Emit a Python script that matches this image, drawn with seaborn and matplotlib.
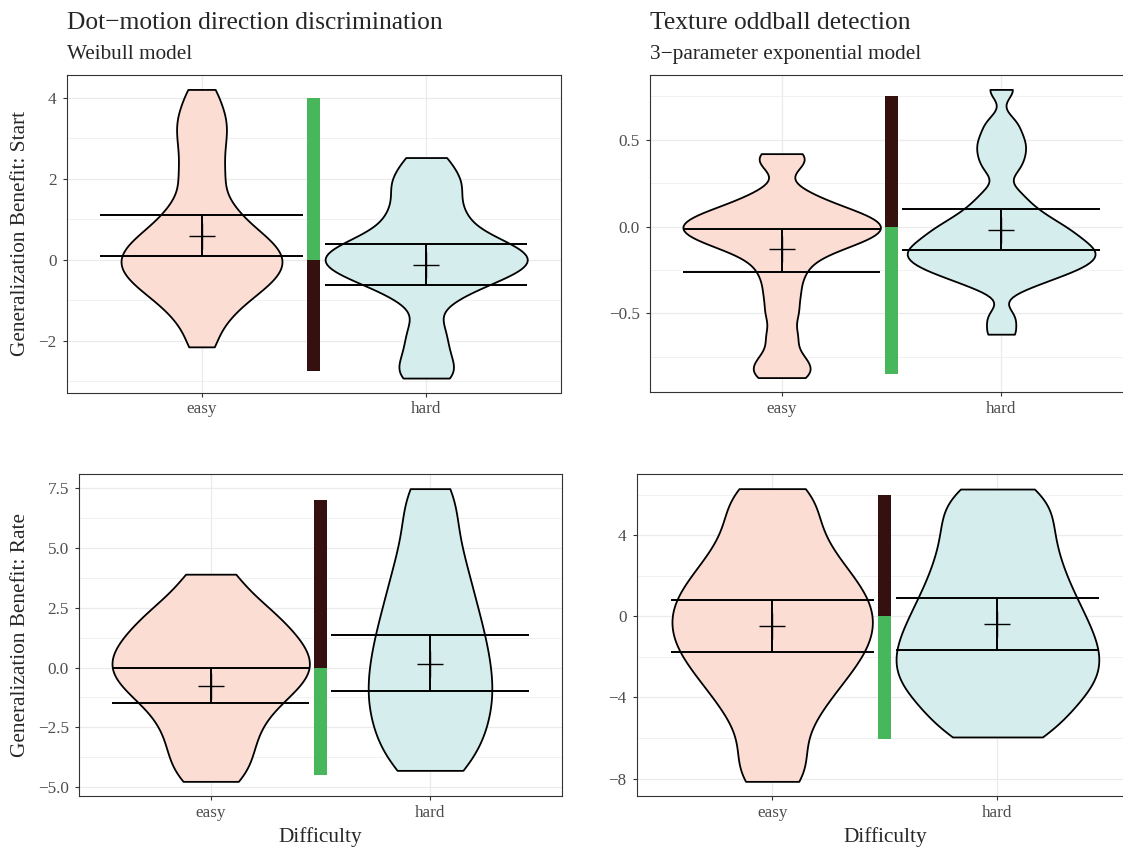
import numpy as np
import pandas as pd
import matplotlib
matplotlib.use("Agg")
import matplotlib.pyplot as plt
import seaborn as sns
from matplotlib.ticker import MultipleLocator, AutoMinorLocator

sns.set_theme(style="white")
plt.rcParams['font.family'] = ['Liberation Serif', 'DejaVu Serif']

# =========================
#  DATA
# =========================

difficulty = ['easy', 'hard']

# generalization benefit samples
start_dot_easy = [-2.15, -1.65, -1.35, -1.12, -0.95, -0.80, -0.68, -0.57, -0.47, -0.37, -0.27,
                  -0.18, -0.09, -0.01, 0.08, 0.17, 0.27, 0.37, 0.47, 0.58, 0.70, 0.85, 1.02,
                  1.25, 1.45, 1.85, 2.15, 2.5, 2.85, 3.15, 3.45, 3.75, 4.2]
start_dot_hard = [-2.92, -2.65, -2.2, -1.7, -0.99, -0.69, -0.52, -0.39, -0.28, -0.18, -0.09,
                  0.0, 0.09, 0.18, 0.28, 0.39, 0.52, 0.69, 0.99, 1.2, 1.55, 1.85, 2.1, 2.52]

start_tex_easy = [-0.87, -0.82, -0.75, -0.63, -0.50, -0.39, -0.29, -0.21, -0.15, -0.116, -0.09,
                  -0.069, -0.049, -0.031, -0.014, 0.004, 0.021, 0.039, 0.059, 0.08, 0.106,
                  0.14, 0.20, 0.36, 0.42]
start_tex_hard = [-0.62, -0.52, -0.35, -0.31, -0.28, -0.26, -0.24, -0.22, -0.21, -0.19, -0.175,
                  -0.16, -0.145, -0.13, -0.115, -0.10, -0.08, -0.06, -0.04, -0.02, 0.0, 0.025,
                  0.055, 0.09, 0.135, 0.20, 0.33, 0.40, 0.46, 0.52, 0.60, 0.79]

rate_dot_easy = [-4.76, -4.0, -3.3, -2.65, -2.05, -1.55, -1.15, -0.8, -0.5, -0.22, 0.05,
                 0.33, 0.62, 0.92, 1.24, 1.57, 1.97, 2.41, 2.9, 3.91]
rate_dot_hard = [-4.3, -3.97, -3.32, -2.81, -2.33, -1.90, -1.48, -1.07, -0.65, -0.21, 0.22,
                 0.66, 1.14, 1.62, 2.13, 2.71, 3.29, 3.98, 4.69, 5.58, 6.72, 7.49]

rate_tex_easy = [-8.14, -7.0, -5.52, -4.46, -3.70, -3.01, -2.48, -1.95, -1.49, -1.05, -0.61,
                 -0.18, 0.25, 0.68, 1.14, 1.61, 2.17, 2.77, 3.52, 4.42, 5.5, 6.30]
rate_tex_hard = [-5.95, -5.4, -4.6, -4.05, -3.57, -3.13, -2.69, -2.27, -1.85, -1.40, -0.95,
                 -0.50, 0.02, 0.54, 1.10, 1.71, 2.39, 3.08, 3.88, 4.68, 5.5, 6.28]

# mean and interval per difficulty (easy, hard)
start_dot_mean = [0.58, -0.12]
start_dot_lo = [0.08, -0.63]
start_dot_hi = [1.10, 0.39]

start_tex_mean = [-0.13, -0.02]
start_tex_lo = [-0.26, -0.135]
start_tex_hi = [-0.013, 0.104]

rate_dot_mean = [-0.75, 0.14]
rate_dot_lo = [-1.48, -0.99]
rate_dot_hi = [-0.02, 1.35]

rate_tex_mean = [-0.49, -0.39]
rate_tex_lo = [-1.76, -1.64]
rate_tex_hi = [0.82, 0.90]

# difference bar (upper end, lower end)
start_dot_bar = [4.0, -2.75]
start_tex_bar = [0.75, -0.85]
rate_dot_bar = [7.0, -4.5]
rate_tex_bar = [6.0, -6.03]

GREEN = '#48B65A'
BROWN = '#34100F'
FILLS = {'easy': '#FCDDD4', 'hard': '#D6EDED'}

W, H = 1123, 848

panels = [
    dict(easy=start_dot_easy, hard=start_dot_hard, mean=start_dot_mean, lo=start_dot_lo,
         hi=start_dot_hi, bar=start_dot_bar, bar_cols=[GREEN, BROWN], bw=0.45, step=2,
         box=(66.7, 75, 561, 392.5), title='Dot\u2212motion direction discrimination',
         subtitle='Weibull model', ylabel='Generalization Benefit: Start', xlabel=None),
    dict(easy=start_tex_easy, hard=start_tex_hard, mean=start_tex_mean, lo=start_tex_lo,
         hi=start_tex_hi, bar=start_tex_bar, bar_cols=[BROWN, GREEN], bw=0.34, step=0.5,
         box=(650, 75, 1132.8, 392), title='Texture oddball detection',
         subtitle='3\u2212parameter exponential model', ylabel=None, xlabel=None),
    dict(easy=rate_dot_easy, hard=rate_dot_hard, mean=rate_dot_mean, lo=rate_dot_lo,
         hi=rate_dot_hi, bar=rate_dot_bar, bar_cols=[BROWN, GREEN], bw=0.62, step=2.5,
         box=(79.1, 474, 561.6, 796), title=None, subtitle=None,
         ylabel='Generalization Benefit: Rate', xlabel='Difficulty'),
    dict(easy=rate_tex_easy, hard=rate_tex_hard, mean=rate_tex_mean, lo=rate_tex_lo,
         hi=rate_tex_hi, bar=rate_tex_bar, bar_cols=[BROWN, GREEN], bw=0.55, step=4,
         box=(637, 474, 1132.6, 796), title=None, subtitle=None, ylabel=None,
         xlabel='Difficulty'),
]


def draw_panel(fig, p):
    x0, y0, x1, y1 = p['box']
    ax = fig.add_axes([x0 / W, 1 - y1 / H, (x1 - x0) / W, (y1 - y0) / H])

    df = pd.DataFrame({
        'Difficulty': ['easy'] * len(p['easy']) + ['hard'] * len(p['hard']),
        'value': p['easy'] + p['hard'],
    })
    sns.violinplot(data=df, x='Difficulty', y='value', hue='Difficulty', order=difficulty,
                   hue_order=difficulty, palette=FILLS, saturation=1, cut=0,
                   density_norm='area', common_norm=True, width=0.9, inner=None,
                   bw_adjust=p['bw'], linecolor='black', linewidth=1.3, legend=False, ax=ax)

    # difference bar between the violins
    ax.bar([0.5], [p['bar'][0]], width=0.057, color=p['bar_cols'][0], linewidth=0, zorder=3)
    ax.bar([0.5], [p['bar'][1]], width=0.057, color=p['bar_cols'][1], linewidth=0, zorder=3)

    # mean +/- interval
    for i in range(len(difficulty)):
        ax.vlines(i, p['lo'][i], p['hi'][i], color='black', lw=1.4, zorder=4)
        ax.hlines([p['lo'][i], p['hi'][i]], i - 0.45, i + 0.45, color='black', lw=1.4, zorder=4)
        ax.plot([i], [p['mean'][i]], marker='+', ms=18.7, mew=1.0, color='black', zorder=5)

    # ggplot-like limits
    vals = p['easy'] + p['hard'] + p['lo'] + p['hi'] + p['bar'] + [0]
    lo, hi = min(vals), max(vals)
    pad = 0.05 * (hi - lo)
    ax.set_ylim(lo - pad, hi + pad)
    ax.set_xlim(-0.6, 1.6)

    ax.yaxis.set_major_locator(MultipleLocator(p['step']))
    ax.yaxis.set_minor_locator(AutoMinorLocator(2))
    ax.set_axisbelow(True)
    ax.grid(which='major', axis='both', color='#EBEBEB', lw=0.9)
    ax.grid(which='minor', axis='y', color='#EBEBEB', lw=0.5)
    ax.tick_params(which='minor', length=0)
    ax.tick_params(which='major', direction='out', length=2.9, width=0.8, color='#333333',
                   labelsize=12.3, labelcolor='#4D4D4D', bottom=True, left=True)
    ax.tick_params(axis='x', pad=3.5)
    ax.tick_params(axis='y', pad=4.5)
    for s in ax.spines.values():
        s.set_color('#333333')
        s.set_linewidth(0.8)
    ax.set_xlabel('')
    ax.set_ylabel('')

    if p['title']:
        fig.text(x0 / W, 1 - 29.3 / H, p['title'], fontsize=18.4, ha='left', va='baseline')
        fig.text(x0 / W, 1 - 59.3 / H, p['subtitle'], fontsize=15.3, ha='left', va='baseline')
    if p['ylabel']:
        fig.text(20.3 / W, 1 - (y0 + y1) / 2 / H, p['ylabel'], fontsize=15.3, rotation=90,
                 ha='center', va='center')
    if p['xlabel']:
        fig.text((x0 + x1) / 2 / W, 1 - 842 / H, p['xlabel'], fontsize=15.3, ha='center',
                 va='baseline')
    return ax


fig = plt.figure(figsize=(W / 100, H / 100), dpi=100)
fig.patch.set_facecolor('white')
for p in panels:
    draw_panel(fig, p)

fig.savefig('out.png', dpi=100)
